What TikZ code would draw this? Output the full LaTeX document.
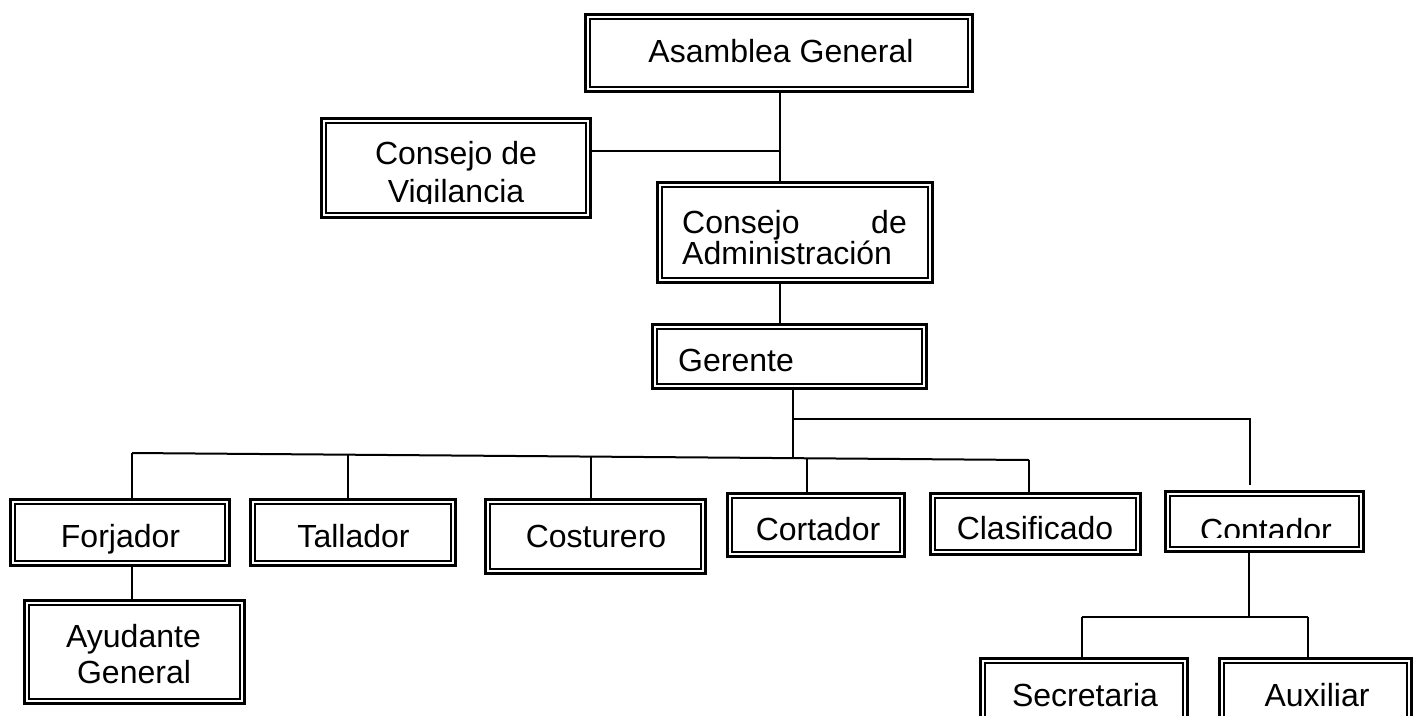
\documentclass[tikz,border=0pt]{standalone}
\usepackage{fontspec}
\setmainfont{Liberation Sans}
\newcommand\obox[5]{\node[box, minimum width={(#4-#2-7.4)*1pt}, minimum height={(#5-#3-7.4)*1pt}] (#1) at ({(#2+#4)/2},{(#3+#5)/2}) {};}
\begin{document}
\begin{tikzpicture}[x=1pt,y=-1pt,
  box/.style={rectangle, draw=black, double=white, double distance=2.2pt, line width=2.6pt, inner sep=0pt, outer sep=3.7pt},
  lbl/.style={inner sep=0pt, font=\fontsize{32}{37}\selectfont},
  conn/.style={line width=2pt, draw=black}]
\useasboundingbox (0,0) rectangle (1416,715);
\fill[white] (0,0) rectangle (1416,715);
\clip (0,0) rectangle (1416,715);

% boxes
\obox{asam}{584}{13}{974}{93}
\obox{vig}{320}{117}{592}{219}
\obox{adm}{656}{181}{934}{284}
\obox{ger}{651}{323}{928}{390}
\obox{forj}{9}{498}{231}{567}
\obox{tall}{249}{498}{457}{567}
\obox{cost}{484}{498}{707}{575}
\obox{cort}{726}{492}{906}{558}
\obox{clas}{929}{492}{1142}{556}
\obox{cont}{1164}{490}{1365}{553}
\obox{ayud}{23}{599}{246}{705}
\obox{sec}{979}{657}{1189}{745}
\obox{aux}{1218}{657}{1413}{745}

% labels
\node[lbl, anchor=base] (tasam) at (781,62) {Asamblea General};
\node[lbl, anchor=base] (tvig1) at (456,164) {Consejo de};
\begin{scope}
\clip (320,170) rectangle (592,203);
\node[lbl, anchor=base] (tvig2) at (456,202) {Vigilancia};
\end{scope}
\node[lbl, anchor=base west] (tadm1) at (682,233) {Consejo};
\node[lbl, anchor=base east] (tadm2) at (907,233) {de};
\node[lbl, anchor=base west] (tadm3) at (682,264) {Administración};
\node[lbl, anchor=base west] (tger) at (678,371) {Gerente};
\node[lbl, anchor=base] (tforj) at (120.5,547) {Forjador};
\node[lbl, anchor=base] (ttall) at (353.5,547) {Tallador};
\node[lbl, anchor=base] (tcost) at (596,547) {Costurero};
\node[lbl, anchor=base] (tcort) at (818,540) {Cortador};
\node[lbl, anchor=base] (tclas) at (1035,539) {Clasificado};
\begin{scope}
\clip (1164,500) rectangle (1365,537);
\node[lbl, anchor=base] (tcont) at (1266,541) {Contador};
\end{scope}
\node[lbl, anchor=base] (tayud1) at (133.5,647) {Ayudante};
\node[lbl, anchor=base] (tayud2) at (134,683) {General};
\node[lbl, anchor=base] (tsec) at (1085,706) {Secretaria};
\node[lbl, anchor=base] (taux) at (1317,706) {Auxiliar};

% junction coordinates
\coordinate (j1) at (780,151);
\coordinate (jg) at (793,458.2);
\coordinate (jr) at (1250,419);
\coordinate (bl) at (132,453);
\coordinate (br) at (1029,460);
\coordinate (stall) at (348,454.7);
\coordinate (scost) at (591,456.6);
\coordinate (scort) at (807,458.3);
\coordinate (jc) at (1249,617);
\coordinate (jsec) at (1082,617);
\coordinate (jaux) at (1308,617);

% connectors
\draw[conn] (asam.south -| j1) -- (adm.north -| j1);
\draw[conn] (vig.east |- j1) -- (j1);
\draw[conn] (adm.south -| j1) -- (ger.north -| j1);
\draw[conn] (ger.south -| jg) -- (jg);
\draw[conn] (jg |- jr) -- (jr) -- ([yshift=5pt]cont.north -| jr);
\draw[conn] (bl) -- (br);
\draw[conn] (bl) -- (forj.north -| bl);
\draw[conn] (stall) -- (tall.north -| stall);
\draw[conn] (scost) -- (cost.north -| scost);
\draw[conn] (scort) -- (cort.north -| scort);
\draw[conn] (br) -- (clas.north -| br);
\draw[conn] (forj.south -| bl) -- (ayud.north -| bl);
\draw[conn] (cont.south -| jc) -- (jc);
\draw[conn] (jsec) -- (jaux);
\draw[conn] (jsec) -- (sec.north -| jsec);
\draw[conn] (jaux) -- (aux.north -| jaux);
\end{tikzpicture}
\end{document}
